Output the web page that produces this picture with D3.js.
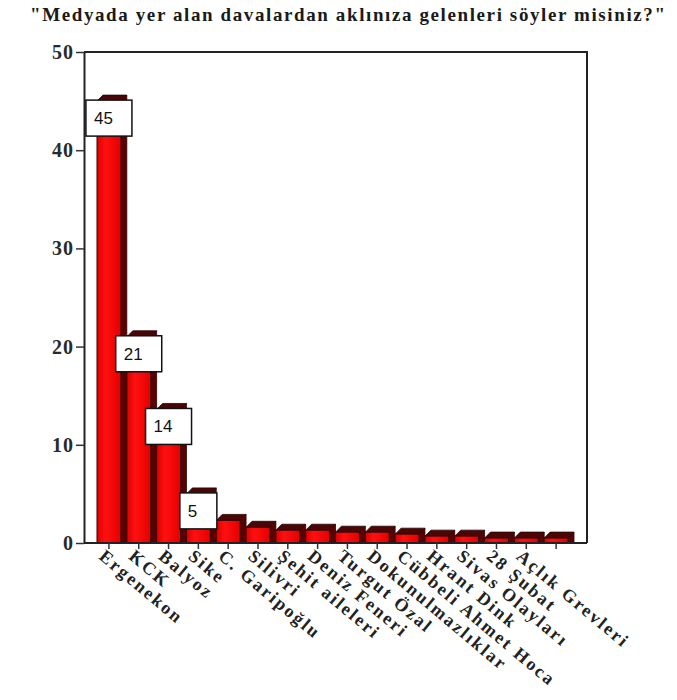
<!DOCTYPE html>
<html>
<head>
<meta charset="utf-8">
<script src="https://cdn.jsdelivr.net/npm/d3@7"></script>
<style>
  html, body { margin: 0; padding: 0; background: #fff; }
  svg { display: block; }
</style>
</head>
<body>
<script>
const titleText = "\"Medyada yer alan davalardan aklınıza gelenleri söyler misiniz?\"";
const categories = ["Ergenekon", "KCK", "Balyoz", "Sike", "C. Garipoğlu", "Silivri", "Şehit aileleri",
  "Deniz Feneri", "Turgut Özal", "Dokunulmazlıklar", "Cübbeli Ahmet Hoca", "Hrant Dink",
  "Sivas Olayları", "28 Şubat", "Açlık Grevleri", ""];
const values = [45, 21, 13.6, 5, 2.3, 1.6, 1.3, 1.3, 1.1, 1.1, 0.9, 0.7, 0.7, 0.5, 0.5, 0.5];
const yTicks = [0, 10, 20, 30, 40, 50];

(function () {
const W = 677, H = 700;
const svg = d3.select("body").append("svg").attr("width", W).attr("height", H);

const defs = svg.append("defs");
const grad = defs.append("linearGradient").attr("id", "face").attr("x1", 0).attr("x2", 1).attr("y1", 0).attr("y2", 0);
grad.append("stop").attr("offset", "0%").attr("stop-color", "#dc0000");
grad.append("stop").attr("offset", "35%").attr("stop-color", "#ff1010");
grad.append("stop").attr("offset", "100%").attr("stop-color", "#e40000");

const mLeft = 84, mRight = 587, mTop = 52, mBottom = 543;
const y = d3.scaleLinear().domain([0, 50]).range([mBottom, mTop]);
const x = d3.scaleBand().domain(d3.range(categories.length)).range([97, 574]).padding(0);
const bw = x.bandwidth();
const faceW = bw * 0.8, depth = bw - faceW, dy = 6;

const serif = "'Liberation Serif', 'Times New Roman', serif";

// title
svg.append("text")
  .attr("x", 30).attr("y", 21)
  .attr("textLength", 635).attr("lengthAdjust", "spacing")
  .style("font-family", serif)
  .style("font-weight", "bold").style("font-size", "19px").style("fill", "#1a1a1a")
  .text(titleText);

// frame: top and right
svg.append("path")
  .attr("d", `M${mLeft},${mTop}H${mRight}V${mBottom}`)
  .attr("fill", "none").attr("stroke", "#222").attr("stroke-width", 2);

// bars
const bars = svg.append("g");
values.forEach((v, i) => {
  const x0 = x(i), x1 = x0 + faceW, yv = y(v);
  bars.append("path")
    .attr("d", `M${x1},${yv}L${x1 + depth},${yv - dy}L${x1 + depth},${mBottom}L${x1},${mBottom}Z`)
    .attr("fill", "#5a0000").attr("stroke", "#2a0000").attr("stroke-width", 0.8);
  bars.append("path")
    .attr("d", `M${x0},${yv}L${x0 + depth},${yv - dy}L${x1 + depth},${yv - dy}L${x1},${yv}Z`)
    .attr("fill", "#4a0606").attr("stroke", "#2a0000").attr("stroke-width", 0.8);
  bars.append("rect")
    .attr("x", x0).attr("y", yv).attr("width", faceW).attr("height", mBottom - yv)
    .attr("fill", "url(#face)").attr("stroke", "#3a0000").attr("stroke-width", 1);
});

// y axis
const yAxis = svg.append("g").attr("transform", `translate(${mLeft},0)`)
  .call(d3.axisLeft(y).tickValues(yTicks).tickSize(8).tickSizeOuter(0).tickPadding(2));
yAxis.select(".domain").attr("stroke", "#222").attr("stroke-width", 2);
yAxis.selectAll(".tick line").attr("stroke", "#333").attr("stroke-width", 1.5);
yAxis.selectAll(".tick text")
  .style("font-family", serif)
  .style("font-weight", "bold").style("font-size", "20px").style("fill", "#2a2a2a")
  .style("letter-spacing", "1px");

// x axis line
svg.append("line").attr("x1", mLeft).attr("x2", mRight).attr("y1", mBottom).attr("y2", mBottom)
  .attr("stroke", "#222").attr("stroke-width", 2);

// x axis ticks (at face centers)
const xAxis = svg.append("g").attr("transform", `translate(${faceW / 2 - bw / 2},${mBottom})`)
  .call(d3.axisBottom(x).tickSize(6).tickSizeOuter(0).tickFormat(() => ""));
xAxis.select(".domain").remove();
xAxis.selectAll(".tick line").attr("stroke", "#333").attr("stroke-width", 1.5);

// x labels rotated
const lab = svg.append("g");
categories.forEach((c, i) => {
  const tx = x(i) + faceW / 2;
  lab.append("text")
    .attr("transform", `translate(${tx - 11},${mBottom + 15}) rotate(40)`)
    .style("font-family", serif)
    .style("font-weight", "bold").style("font-size", "18px").style("fill", "#222")
    .style("letter-spacing", "2.2px")
    .text(c);
});

// value boxes
const fmt = d3.format(".0f");
values.forEach((v, i) => {
  if (v < 4) return;
  const s = fmt(v);
  const cx = x(i) + faceW / 2;
  const tw = s.length * 9;
  const bwid = tw + 28, bh = 36;
  const bx = cx - bwid / 2, by = y(v) - 1;
  svg.append("rect").attr("x", bx).attr("y", by).attr("width", bwid).attr("height", bh)
    .attr("fill", "#fff").attr("stroke", "#111").attr("stroke-width", 1.5);
  svg.append("text").attr("x", bx + 8).attr("y", by + bh / 2 + 6)
    .style("font-family", "'Liberation Sans', Arial, sans-serif")
    .style("font-size", "17px").style("fill", "#111")
    .text(s);
});
})();
</script>
</body>
</html>
